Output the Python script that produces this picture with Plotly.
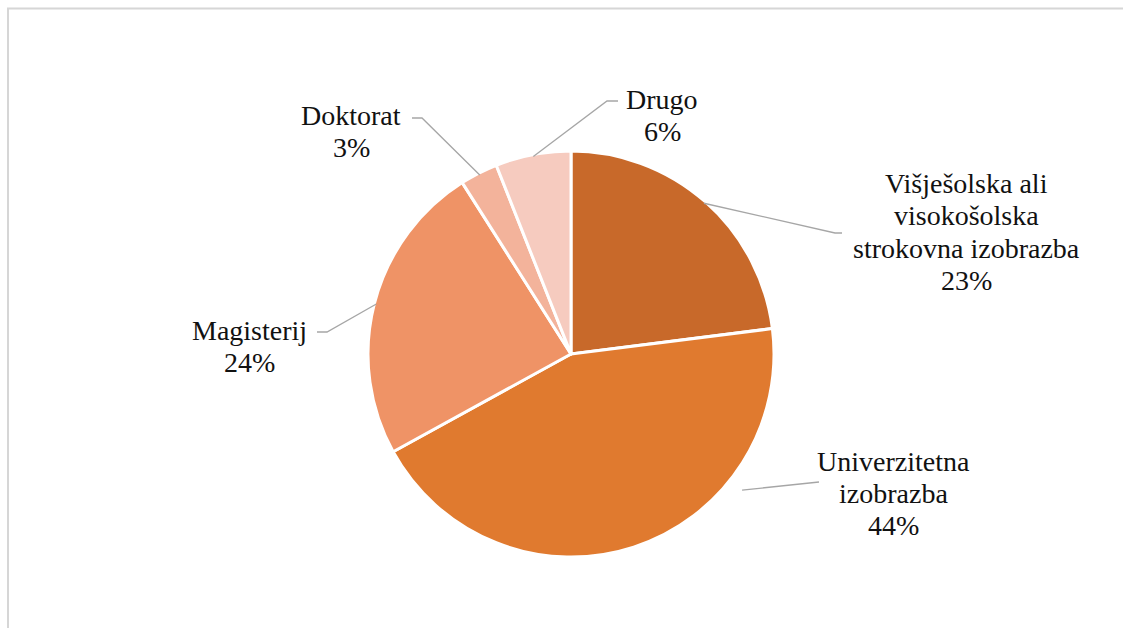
import math
import plotly.graph_objects as go

# Education level shares (%)
categories = [
    "Višješolska ali visokošolska strokovna izobrazba",
    "Univerzitetna izobrazba",
    "Magisterij",
    "Doktorat",
    "Drugo",
]
values = [23, 44, 24, 3, 6]
colors = ["#C8692A", "#E07A2F", "#EF9366", "#F3B39B", "#F6CBBF"]

# How each label is broken into lines
label_lines = [
    ["Višješolska ali", "visokošolska", "strokovna izobrazba"],
    ["Univerzitetna", "izobrazba"],
    ["Magisterij"],
    ["Doktorat"],
    ["Drugo"],
]

W, H = 1123, 628
CX, CY, R = 571, 354, 203  # pie centre and radius in pixels

# Label placement: centre x, y of first line, and leader elbow/end points (px)
label_pos = [
    dict(x=966, y=184, elbow=(835, 233), end=(842, 233), angle=None, rfac=0.99),
    dict(x=893, y=461, elbow=(819, 482), end=(819, 482), angle=128.5, rfac=1.077),
    dict(x=249, y=330, elbow=(327, 332), end=(317, 332), angle=None, rfac=0.99),
    dict(x=351, y=115, elbow=(422, 118), end=(412, 118), angle=None, rfac=0.99),
    dict(x=662, y=100, elbow=(607, 101), end=(618, 101), angle=None, rfac=0.99),
]
LINE_GAP = 32
FONT = "Liberation Serif"


def px(x):
    return x / W


def py(y):
    return 1 - y / H


fig = go.Figure(
    go.Pie(
        labels=categories,
        values=values,
        sort=False,
        direction="clockwise",
        rotation=0,
        marker=dict(colors=colors, line=dict(color="white", width=3)),
        textinfo="none",
        hoverinfo="label+percent",
        domain=dict(x=[px(CX - R), px(CX + R)], y=[py(CY + R), py(CY - R)]),
        showlegend=False,
    )
)

annotations = []
shapes = []
total = sum(values)
cum = 0
for cat, v, lines, pos in zip(categories, values, label_lines, label_pos):
    mid = (cum + v / 2) / total * 360
    cum += v
    ang = pos["angle"] if pos["angle"] is not None else mid
    rr = R * pos["rfac"]
    ax = CX + rr * math.sin(math.radians(ang))
    ay = CY - rr * math.cos(math.radians(ang))
    ex, ey = pos["elbow"]
    fx, fy = pos["end"]
    path = f"M {px(ax)} {py(ay)} L {px(ex)} {py(ey)} L {px(fx)} {py(fy)}"
    shapes.append(dict(type="path", xref="paper", yref="paper", path=path,
                       line=dict(color="#A6A6A6", width=1.3)))
    text_lines = lines + [f"{round(v / total * 100)}%"]
    for i, t in enumerate(text_lines):
        annotations.append(dict(
            text=t, x=px(pos["x"]), y=py(pos["y"] + i * LINE_GAP),
            xref="paper", yref="paper", xanchor="center", yanchor="middle",
            showarrow=False, font=dict(family=FONT, size=28, color="#111111"),
        ))

# Chart frame (top and left edges)
shapes.append(dict(type="line", xref="paper", yref="paper",
                   x0=px(7), x1=1, y0=py(8.5), y1=py(8.5),
                   line=dict(color="#D6D6D6", width=2)))
shapes.append(dict(type="line", xref="paper", yref="paper",
                   x0=px(8), x1=px(8), y0=py(8), y1=0,
                   line=dict(color="#D6D6D6", width=2)))

fig.update_layout(
    width=W, height=H,
    margin=dict(l=0, r=0, t=0, b=0),
    paper_bgcolor="white", plot_bgcolor="white",
    annotations=annotations, shapes=shapes,
)

fig.write_html("out.html")
